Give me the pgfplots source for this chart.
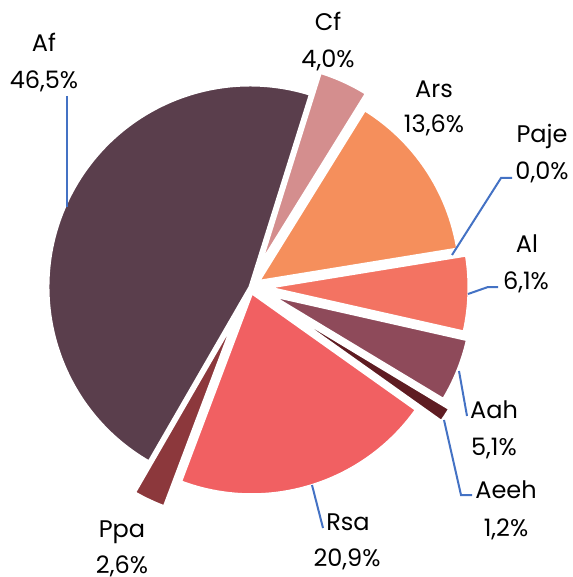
\documentclass[border=0pt]{standalone}
\usepackage{pgfplots}
\pgfplotsset{compat=1.18}
\usepackage{pgfplotstable}
\usepackage{fontspec}
\setmainfont{Poppins}

\definecolor{c0}{HTML}{D48E8E}% Cf
\definecolor{c1}{HTML}{F58F5C}% Ars
\definecolor{c2}{HTML}{F37362}% Paje
\definecolor{c3}{HTML}{F37362}% Al
\definecolor{c4}{HTML}{8E4A5A}% Aah
\definecolor{c5}{HTML}{5E1C22}% Aeeh
\definecolor{c6}{HTML}{F16062}% Rsa
\definecolor{c7}{HTML}{8C383C}% Ppa
\definecolor{c8}{HTML}{5A3E4C}% Af
\definecolor{leader}{HTML}{4472C4}

\pgfplotstableread{
name value explode
Cf   4.0  24
Ars  13.6 10
Paje 0.0  0
Al   6.1  17
Aah  5.1  22
Aeeh 1.2  32
Rsa  20.9 6
Ppa  2.6  34
Af   46.5 0
}\piedata

\xdef\cumangle{72.6}
\foreach \i in {0,...,8}{%
  \pgfplotstablegetelem{\i}{value}\of\piedata\let\val\pgfplotsretval
  \pgfplotstablegetelem{\i}{explode}\of\piedata\let\exv\pgfplotsretval
  \pgfmathsetmacro\aa{\cumangle}%
  \pgfmathsetmacro\bb{\cumangle-3.6*\val}%
  \pgfmathsetmacro\mm{(\aa+\bb)/2}%
  \expandafter\xdef\csname sA\i\endcsname{\aa}%
  \expandafter\xdef\csname sB\i\endcsname{\bb}%
  \expandafter\xdef\csname sM\i\endcsname{\mm}%
  \expandafter\xdef\csname sE\i\endcsname{\exv}%
  \xdef\cumangle{\bb}%
}
\newcommand\sA[1]{\csname sA#1\endcsname}
\newcommand\sB[1]{\csname sB#1\endcsname}
\newcommand\sM[1]{\csname sM#1\endcsname}
\newcommand\sE[1]{\csname sE#1\endcsname}
\newcommand\lbl{\fontsize{24}{26}\selectfont}
\newcommand\R{202pt}

\begin{document}
\begin{tikzpicture}
\begin{axis}[hide axis, scale only axis, width=572pt, height=577pt,
  xmin=0, xmax=572, ymin=0, ymax=577, y dir=reverse, clip=false]
\path (axis cs:0,0) rectangle (axis cs:572,577);
\pgfplotsinvokeforeach{0,...,8}{
  \fill[fill=c#1] (axis cs:250,287) ++(\sM{#1}:\sE{#1} pt) -- ++(\sA{#1}:\R)
     arc[start angle=\sA{#1}, end angle=\sB{#1}, radius=\R] -- cycle;
}
\pgfplotsinvokeforeach{0,...,8}{
  \draw[white, line width=3pt] (axis cs:250,287) ++(\sM{#1}:\sE{#1} pt) -- ++(\sA{#1}:\R)
     arc[start angle=\sA{#1}, end angle=\sB{#1}, radius=\R] -- cycle;
}
% leader lines
\begin{scope}[leader, line width=2pt]
\draw (axis cs:67,96) -- (axis cs:67,207);
\draw (axis cs:512,178) -- (axis cs:501,178) -- (axis cs:452,255);
\draw (axis cs:498,287) -- (axis cs:488,287) -- (axis cs:468,294);
\draw (axis cs:467,416) -- (axis cs:459,371);
\draw (axis cs:472,495) -- (axis cs:461,495) -- (axis cs:444,420);
\draw (axis cs:323,528) -- (axis cs:312,485);
\end{scope}
% labels
\begin{scope}[every node/.style={anchor=base, font=\lbl, inner sep=0pt}]
\node at (axis cs:44,52) {Af};   \node at (axis cs:44,89) {46,5\%};
\node at (axis cs:328,31) {Cf};  \node at (axis cs:328,68) {4,0\%};
\node at (axis cs:434,98) {Ars}; \node at (axis cs:434,133) {13,6\%};
\node at (axis cs:542,143) {Paje}; \node at (axis cs:542,180) {0,0\%};
\node at (axis cs:527,252) {Al}; \node at (axis cs:526,289) {6,1\%};
\node at (axis cs:494,418) {Aah}; \node at (axis cs:494,455) {5,1\%};
\node at (axis cs:506,498) {Aeeh}; \node at (axis cs:506,536) {1,2\%};
\node at (axis cs:348,530) {Rsa}; \node at (axis cs:347,566) {20,9\%};
\node at (axis cs:122,537) {Ppa}; \node at (axis cs:122,573) {2,6\%};
\end{scope}
\end{axis}
\end{tikzpicture}
\end{document}
